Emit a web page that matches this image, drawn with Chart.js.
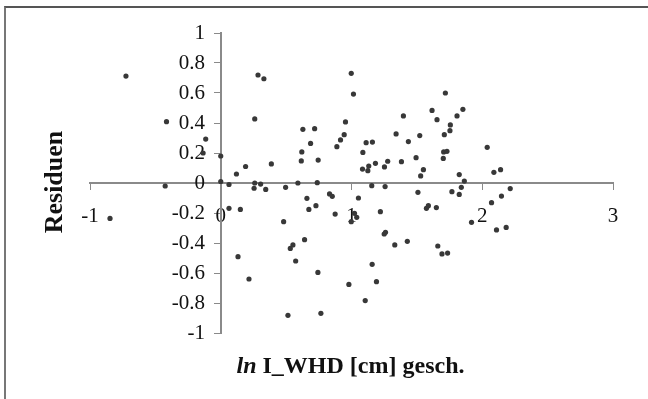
<!DOCTYPE html>
<html>
<head>
<meta charset="utf-8">
<script src="https://cdn.jsdelivr.net/npm/chart.js@4/dist/chart.umd.min.js"></script>
<style>
  html, body { margin: 0; padding: 0; background: #fff; overflow: hidden; }
  #wrap { position: relative; width: 648px; height: 399px; }
  #frame { position: absolute; left: 4px; top: 6px; width: 700px; height: 500px;
           border-left: 2px solid #777; border-top: 2px solid #555; box-sizing: border-box; }
  canvas { position: absolute; left: 0; top: 0; }
</style>
</head>
<body>
<div id="wrap">
  <div id="frame"></div>
  <canvas id="c" width="648" height="399"></canvas>
</div>
<script>
const xTitleItalic = 'ln';
const xTitleRest = ' I_WHD [cm] gesch.';
const yTitle = 'Residuen';
const xTickLabels = ['-1', '0', '1', '2', '3'];
const yTickLabels = ['-1', '-0.8', '-0.6', '-0.4', '-0.2', '0', '0.2', '0.4', '0.6', '0.8', '1'];

const xVals = [
  -0.725, -0.415, -0.115, -0.135, 0.0, 0.12, 0.19, 0.285, 0.33, 0.26,
  -0.425, 0.0, 0.063, 0.255, 0.387, 0.628, 0.718, 0.687, 0.62, 0.616,
  0.745, 0.888, 0.916, 0.944, 0.954, 0.998, 1.015, 1.087, 1.112, 1.16,
  1.084, 1.125, 1.132, 1.183, 1.252, 1.277, 1.341, 1.397, 1.382, 1.435,
  1.494, 1.522, 1.55, 1.529, 1.616, 1.654, 1.718, 1.71, 1.702, 1.705,
  1.73, 0.26, 0.305, 0.344, 0.496, 0.59, 0.738, 1.155, 1.257, 1.852,
  1.807, 1.756, 1.753, 2.038, 2.089, 2.14, 1.824, 1.863, 1.84, 2.214,
  -0.847, 0.063, 0.15, 0.132, 0.216, 0.659, 0.674, 0.728, 0.832, 0.853,
  0.875, 0.481, 0.641, 0.552, 0.532, 0.573, 0.743, 0.514, 0.766, 0.98,
  0.998, 1.023, 1.04, 1.053, 1.221, 1.26, 1.25, 1.331, 1.427, 1.158,
  1.191, 1.105, 1.508, 1.573, 1.588, 1.649, 1.66, 1.692, 1.735, 1.768,
  1.824, 2.147, 2.071, 1.918, 2.109, 2.183
];
const yVals = [
  0.713, 0.409, 0.293, 0.2, 0.18, 0.06, 0.11, 0.72, 0.695, 0.427,
  -0.02, 0.01, -0.01, -0.035, 0.127, 0.358, 0.362, 0.264, 0.207, 0.147,
  0.153, 0.242, 0.287, 0.322, 0.407, 0.731, 0.593, 0.204, 0.269, 0.273,
  0.093, 0.082, 0.113, 0.131, 0.107, 0.145, 0.327, 0.447, 0.142, 0.276,
  0.169, 0.316, 0.089, 0.047, 0.484, 0.422, 0.6, 0.322, 0.164, 0.207,
  0.211, 0.0, -0.007, -0.043, -0.029, 0.0, 0.002, -0.018, -0.024, 0.491,
  0.447, 0.387, 0.349, 0.238, 0.071, 0.089, 0.056, 0.013, -0.029, -0.037,
  -0.236, -0.169, -0.176, -0.491, -0.64, -0.102, -0.176, -0.151, -0.073, -0.089,
  -0.207, -0.258, -0.378, -0.413, -0.436, -0.52, -0.596, -0.882, -0.869, -0.676,
  -0.258, -0.202, -0.229, -0.1, -0.191, -0.329, -0.34, -0.413, -0.389, -0.542,
  -0.658, -0.784, -0.062, -0.169, -0.151, -0.164, -0.42, -0.473, -0.467, -0.058,
  -0.076, -0.087, -0.131, -0.262, -0.313, -0.296
];

const points = xVals.map((x, i) => ({ x: x, y: yVals[i] }));

const titlesPlugin = {
  id: 'titles',
  afterDraw(chart) {
    const ctx = chart.ctx;
    ctx.save();
    ctx.fillStyle = '#111';
    ctx.textBaseline = 'alphabetic';
    // x title
    const fI = 'italic bold 24px "Liberation Serif", "Times New Roman", serif';
    const fB = 'bold 24px "Liberation Serif", "Times New Roman", serif';
    ctx.font = fI;
    const w1 = ctx.measureText(xTitleItalic).width;
    ctx.font = fB;
    const w2 = ctx.measureText(xTitleRest).width;
    const cx = 350.5;
    const sx = cx - (w1 + w2) / 2;
    ctx.textAlign = 'left';
    ctx.font = fI;
    ctx.fillText(xTitleItalic, sx, 373);
    ctx.font = fB;
    ctx.fillText(xTitleRest, sx + w1, 373);
    // y title
    ctx.translate(62, 182);
    ctx.rotate(-Math.PI / 2);
    ctx.textAlign = 'center';
    ctx.font = 'bold 26px "Liberation Serif", "Times New Roman", serif';
    ctx.fillText(yTitle, 0, 0);
    ctx.restore();
  }
};

const axisColor = '#8a8a8a';
const tickFont = { family: '"Liberation Serif", "Times New Roman", serif', size: 21 };

new Chart(document.getElementById('c'), {
  type: 'scatter',
  data: {
    datasets: [{
      data: points,
      backgroundColor: '#383838',
      borderWidth: 0,
      pointRadius: 2.6,
      pointHoverRadius: 2.6
    }]
  },
  options: {
    responsive: false,
    animation: false,
    events: [],
    layout: { padding: { left: 90, right: 35, top: 33, bottom: 66 } },
    plugins: { legend: { display: false }, tooltip: { enabled: false } },
    scales: {
      x: {
        type: 'linear',
        position: { y: 0 },
        min: -1, max: 3,
        ticks: {
          stepSize: 1,
          color: '#111',
          font: tickFont,
          padding: 15,
          maxRotation: 0,
          callback: (v, i) => xTickLabels[i]
        },
        grid: { display: true, drawOnChartArea: false, drawTicks: true, tickLength: 6, tickColor: axisColor, tickWidth: 1 },
        border: { display: true, color: axisColor, width: 2 }
      },
      y: {
        type: 'linear',
        position: { x: 0 },
        min: -1, max: 1,
        ticks: {
          stepSize: 0.2,
          color: '#111',
          font: tickFont,
          padding: 11,
          callback: (v, i) => yTickLabels[i] + '   '
        },
        grid: { display: true, drawOnChartArea: false, drawTicks: true, tickLength: 6, tickColor: axisColor, tickWidth: 1 },
        border: { display: true, color: axisColor, width: 2 }
      }
    }
  },
  plugins: [titlesPlugin]
});
</script>
</body>
</html>
